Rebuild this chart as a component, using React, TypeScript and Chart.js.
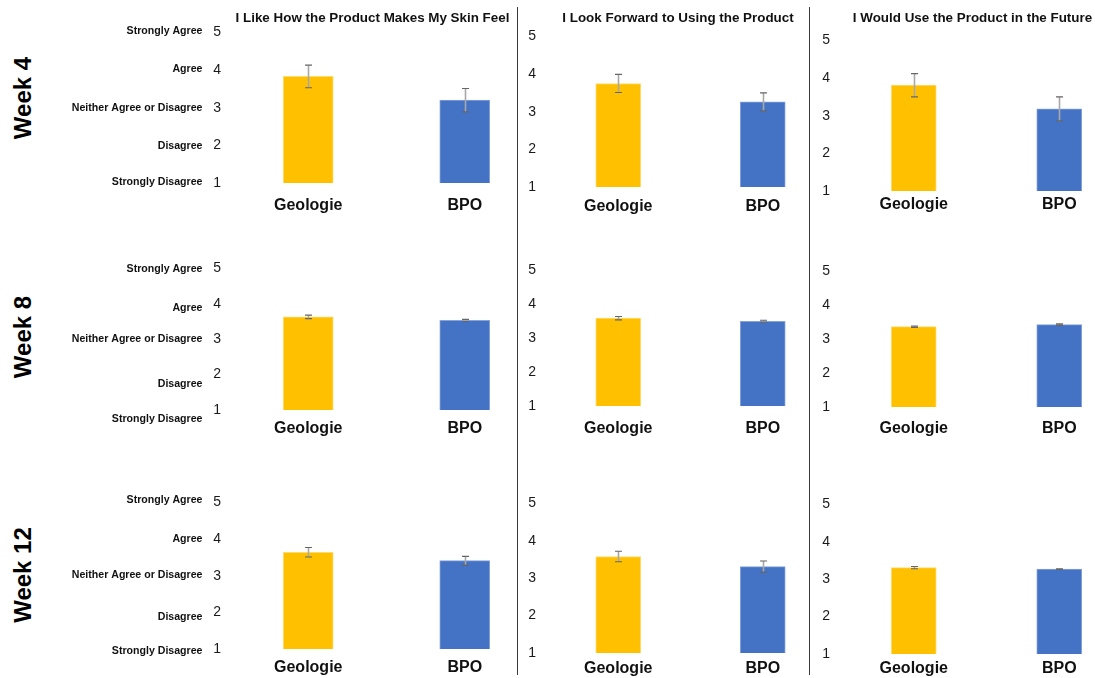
import React, { useEffect, useRef } from "react";
import { Chart, registerables } from "chart.js";

Chart.register(...registerables);

// ---------- data ----------
const categories = ["Geologie", "BPO"];
const weeks = ["Week 4", "Week 8", "Week 12"];
const questions = [
  "I Like How the Product Makes My Skin Feel",
  "I Look Forward to Using the Product",
  "I Would Use the Product in the Future",
];
const likertLabels = [
  "Strongly Disagree",
  "Disagree",
  "Neither Agree or Disagree",
  "Agree",
  "Strongly Agree",
];
const yTicks = [1, 2, 3, 4, 5];

// mean scores, one value per question (in the order of `questions`)
const geologieWeek4 = [3.83, 3.75, 3.81];
const bpoWeek4 = [3.2, 3.26, 3.18];
const geologieWeek8 = [3.63, 3.59, 3.37];
const bpoWeek8 = [3.53, 3.5, 3.43];
const geologieWeek12 = [3.64, 3.58, 3.31];
const bpoWeek12 = [3.41, 3.31, 3.27];

// error bar half-lengths
const geologieErrWeek4 = [0.3, 0.24, 0.31];
const bpoErrWeek4 = [0.31, 0.24, 0.32];
const geologieErrWeek8 = [0.05, 0.05, 0.02];
const bpoErrWeek8 = [0.03, 0.03, 0.02];
const geologieErrWeek12 = [0.13, 0.14, 0.03];
const bpoErrWeek12 = [0.12, 0.15, 0.01];

const geologieByWeek = [geologieWeek4, geologieWeek8, geologieWeek12];
const bpoByWeek = [bpoWeek4, bpoWeek8, bpoWeek12];
const geologieErrByWeek = [geologieErrWeek4, geologieErrWeek8, geologieErrWeek12];
const bpoErrByWeek = [bpoErrWeek4, bpoErrWeek8, bpoErrWeek12];

const barColors = ["#FFC000", "#4472C4"];
const barEdgeColors = ["#FFDB70", "#86A3DA"];

// ---------- layout ----------
const FONT = "'Liberation Sans', Arial, Helvetica, sans-serif";
const PAD_TOP = 14;
const X_AXIS_H = 40;
const COLS = [
  { L: 229.75, R: 542.75, bar: 50, yPad: 9, axisW: 180 },
  { L: 546.25, R: 835.25, bar: 45, yPad: 10, axisW: 40 },
  { L: 841.25, R: 1132.25, bar: 45, yPad: 11, axisW: 40 },
];
// [top (value 5), bottom (value 1)] per row, per column
const ROWS = [
  [[29.3, 183.6], [31.7, 186.3], [35, 191.3]],
  [[265, 410.3], [266, 405.7], [266, 406.7]],
  [[499.3, 649.5], [499.3, 653], [499.3, 654.3]],
];
const X_PAD = [
  [12.5, 10, 4],
  [9.3, 13, 12],
  [8.7, 6, 4.5],
];
// vertical nudge of the likert text relative to its tick (values 1..5)
const LIKERT_DY = [
  [-1, 1, 0, -0.5, -1],
  [8.7, 9.3, 0, 4.3, 0.7],
  [2.3, 4.3, -0.6, 0.3, -2],
];
const TITLE_POS = [
  { x: 372.5, y: 17 },
  { x: 678, y: 17 },
  { x: 972.5, y: 17 },
];
const WEEK_POS = [
  { x: 23, y: 98 },
  { x: 23, y: 337 },
  { x: 23, y: 575 },
];
const SEPARATORS = [517, 809];

const errorBarPlugin = {
  id: "errbars",
  afterDatasetsDraw(chart: any, _args: any, opts: any) {
    const errs: number[] = opts.errors || [];
    const meta = chart.getDatasetMeta(0);
    const ys = chart.scales.y;
    const ctx = chart.ctx;
    ctx.save();
    meta.data.forEach((bar: any, i: number) => {
      const v = chart.data.datasets[0].data[i];
      const e = errs[i];
      const yt = ys.getPixelForValue(v + e);
      const yb = ys.getPixelForValue(v - e);
      const x = Math.round(bar.x) + 0.5;
      const cap = 3.5;
      ctx.strokeStyle = "#a8a8a8";
      ctx.lineWidth = 1.6;
      ctx.beginPath();
      ctx.moveTo(x, yt);
      ctx.lineTo(x, yb);
      ctx.stroke();
      ctx.strokeStyle = "#666";
      ctx.lineWidth = 1.2;
      ctx.beginPath();
      ctx.moveTo(x - cap, yt);
      ctx.lineTo(x + cap, yt);
      ctx.moveTo(x - cap, yb);
      ctx.lineTo(x + cap, yb);
      ctx.stroke();
    });
    ctx.restore();
  },
};

const likertPlugin = {
  id: "likert",
  afterDraw(chart: any, _args: any, opts: any) {
    if (!opts.show) return;
    const ys = chart.scales.y;
    const ctx = chart.ctx;
    const dy: number[] = opts.dy;
    ctx.save();
    ctx.font = `bold 10.6px ${FONT}`;
    ctx.fillStyle = "#111";
    ctx.textAlign = "right";
    ctx.textBaseline = "middle";
    yTicks.forEach((t, i) => {
      const y = ys.getPixelForValue(t) + dy[i];
      ctx.fillText(likertLabels[i], chart.chartArea.left - 27.5, y);
    });
    ctx.restore();
  },
};

function Panel({ row, col }: { row: number; col: number }) {
  const ref = useRef<HTMLCanvasElement>(null);
  const c = COLS[col];
  const [T, B] = ROWS[row][col];
  const left = c.L - c.axisW;
  const top = T - PAD_TOP;
  const width = Math.round(c.axisW + (c.R - c.L));
  const height = Math.round(B - T + PAD_TOP + X_AXIS_H);

  useEffect(() => {
    if (!ref.current) return;
    const chart = new Chart(ref.current, {
      type: "bar",
      data: {
        labels: categories,
        datasets: [
          {
            data: [geologieByWeek[row][col], bpoByWeek[row][col]],
            backgroundColor: barColors,
            borderColor: barEdgeColors,
            borderWidth: 1,
            barThickness: c.bar,
          },
        ],
      },
      options: {
        responsive: false,
        animation: false,
        devicePixelRatio: window.devicePixelRatio || 1,
        layout: { padding: { top: PAD_TOP, left: 0, right: 0, bottom: 0 } },
        scales: {
          x: {
            type: "category",
            grid: { display: false, drawTicks: false },
            border: { display: false },
            ticks: {
              padding: X_PAD[row][col],
              color: "#111",
              font: { family: FONT, size: 16, weight: "bold" },
              maxRotation: 0,
            },
            afterFit: (s: any) => {
              s.height = X_AXIS_H;
            },
          },
          y: {
            type: "linear",
            min: 1,
            max: 5,
            grid: { display: false, drawTicks: false },
            border: { display: false },
            ticks: {
              stepSize: 1,
              padding: c.yPad,
              color: "#1a1a1a",
              font: { family: FONT, size: 14 },
            },
            afterFit: (s: any) => {
              s.width = c.axisW;
            },
          },
        },
        plugins: {
          legend: { display: false },
          tooltip: { enabled: false },
          title: { display: false },
          errbars: {
            errors: [geologieErrByWeek[row][col], bpoErrByWeek[row][col]],
          },
          likert: { show: col === 0, dy: LIKERT_DY[row] },
        } as any,
      },
      plugins: [errorBarPlugin, likertPlugin],
    });
    return () => chart.destroy();
  }, [row, col]);

  return (
    <canvas
      ref={ref}
      width={width}
      height={height}
      style={{ position: "absolute", left, top, width, height }}
    />
  );
}

export default function App() {
  const panels: { row: number; col: number }[] = [];
  for (let r = 0; r < weeks.length; r++)
    for (let q = 0; q < questions.length; q++) panels.push({ row: r, col: q });

  return (
    <div
      style={{
        position: "fixed",
        left: 0,
        top: 0,
        width: 1095,
        height: 678,
        overflow: "hidden",
        background: "#fff",
        fontFamily: FONT,
      }}
    >
      {panels.map((p) => (
        <Panel key={`${p.row}-${p.col}`} row={p.row} col={p.col} />
      ))}
      {SEPARATORS.map((x) => (
        <div
          key={x}
          style={{
            position: "absolute",
            left: x,
            top: 7,
            width: 1.3,
            height: 668,
            background: "#3a3a3a",
          }}
        />
      ))}
      {questions.map((q, i) => (
        <div
          key={q}
          style={{
            position: "absolute",
            left: TITLE_POS[i].x,
            top: TITLE_POS[i].y,
            transform: "translate(-50%, -50%)",
            whiteSpace: "nowrap",
            fontWeight: "bold",
            fontSize: 13.4,
            color: "#111",
          }}
        >
          {q}
        </div>
      ))}
      {weeks.map((w, i) => (
        <div
          key={w}
          style={{
            position: "absolute",
            left: WEEK_POS[i].x,
            top: WEEK_POS[i].y,
            transform: "translate(-50%, -50%) rotate(-90deg)",
            whiteSpace: "nowrap",
            fontWeight: "bold",
            fontSize: 24,
            color: "#000",
          }}
        >
          {w}
        </div>
      ))}
    </div>
  );
}
